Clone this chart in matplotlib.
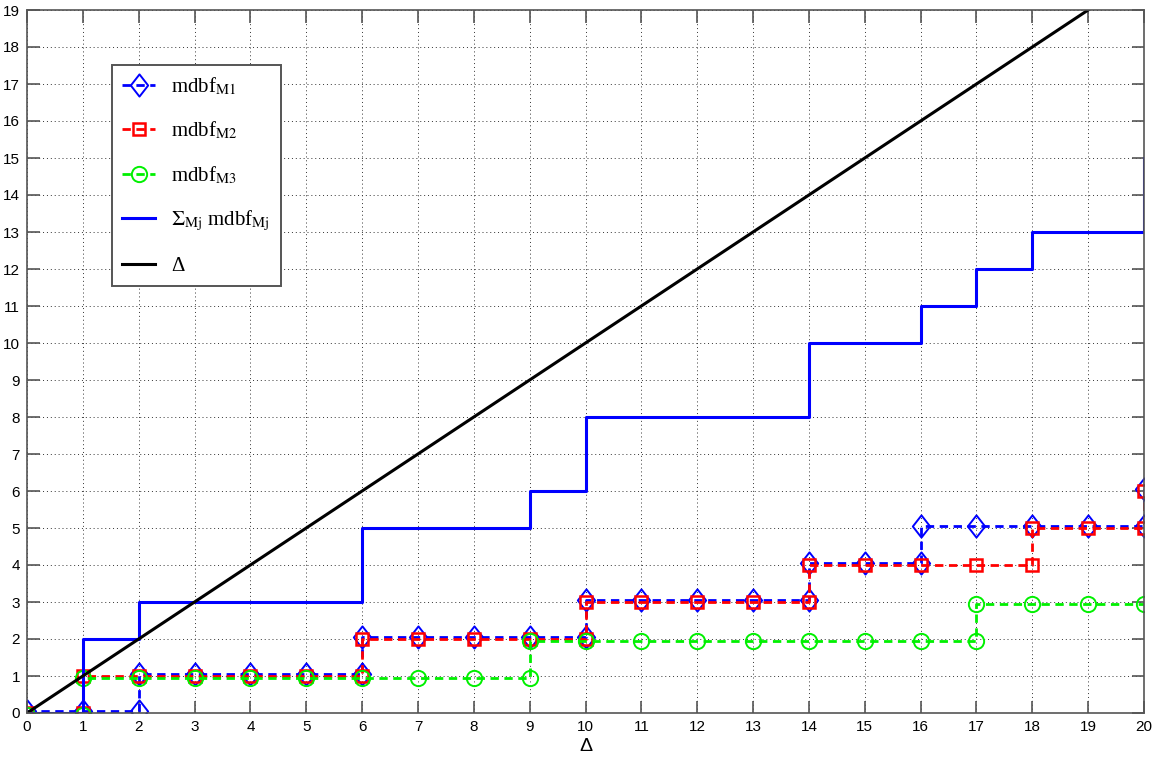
import matplotlib
matplotlib.use("Agg")
import matplotlib.pyplot as plt
from matplotlib.path import Path

# Δ values (integer grid) and step series; duplicated x marks a jump
m1_x = [0, 1, 2, 2, 3, 4, 5, 6, 6, 7, 8, 9, 10, 10, 11, 12, 13, 14, 14, 15, 16, 16, 17, 18, 19, 20, 20]
m1_y = [0, 0, 0, 1, 1, 1, 1, 1, 2, 2, 2, 2, 2, 3, 3, 3, 3, 3, 4, 4, 4, 5, 5, 5, 5, 5, 6]

m2_x = [0, 1, 1, 2, 3, 4, 5, 6, 6, 7, 8, 9, 10, 10, 11, 12, 13, 14, 14, 15, 16, 17, 18, 18, 19, 20, 20]
m2_y = [0, 0, 1, 1, 1, 1, 1, 1, 2, 2, 2, 2, 2, 3, 3, 3, 3, 3, 4, 4, 4, 4, 4, 5, 5, 5, 6]

m3_x = [0, 1, 1, 2, 3, 4, 5, 6, 7, 8, 9, 9, 10, 11, 12, 13, 14, 15, 16, 17, 17, 18, 19, 20]
m3_y = [0, 0, 1, 1, 1, 1, 1, 1, 1, 1, 1, 2, 2, 2, 2, 2, 2, 2, 2, 2, 3, 3, 3, 3]

sum_x = [0, 1, 1, 2, 2, 6, 6, 9, 9, 10, 10, 14, 14, 16, 16, 17, 17, 18, 18, 20, 20]
sum_y = [0, 0, 2, 2, 3, 3, 5, 5, 6, 6, 8, 8, 10, 10, 11, 11, 12, 12, 13, 13, 15]

delta_x = [0, 20]
delta_y = [0, 20]

# small visual offsets used in the original to separate overlapping curves
off1 = 0.05
off3 = -0.05

plt.rcParams['mathtext.fontset'] = 'stix'

diamond = Path([(0, 1), (0.78, 0), (0, -1), (-0.78, 0), (0, 1)],
               [Path.MOVETO, Path.LINETO, Path.LINETO, Path.LINETO, Path.CLOSEPOLY])

fig = plt.figure(figsize=(11.61, 7.66), dpi=100)
ax = fig.add_axes([27/1161, 1 - 713/766, (1144-27)/1161, (713-10)/766])

dash = (0, (3.0, 2.0))
ax.plot(m1_x, [v + off1 for v in m1_y], color='#0000ff', ls=dash, lw=2.0,
        marker=diamond, ms=16, mfc='none', mec='#0000ff', mew=1.4,
        label=r'mdbf$_{\mathrm{M1}}$')
ax.plot(m2_x, m2_y, color='#ff0000', ls=dash, lw=2.0,
        marker='s', ms=9, mfc='none', mec='#ff0000', mew=1.8,
        label=r'mdbf$_{\mathrm{M2}}$')
ax.plot(m3_x, [v + off3 for v in m3_y], color='#00f000', ls=dash, lw=2.0,
        marker='o', ms=11, mfc='none', mec='#00f000', mew=1.4,
        label=r'mdbf$_{\mathrm{M3}}$')
ax.plot(sum_x, sum_y, color='#0000ff', lw=2.2,
        label=r'$\Sigma_{\mathrm{Mj}}$ mdbf$_{\mathrm{Mj}}$')
ax.plot(delta_x, delta_y, color='black', lw=2.2, label='Δ')

ax.set_xlim(0, 20)
ax.set_ylim(0, 19)
ax.set_xticks(range(0, 21))
ax.set_yticks(range(0, 20))
ax.tick_params(direction='in', length=9, width=1.2, top=True, right=True,
               labelsize=11, colors='#555555', labelcolor='black', pad=5)
for lab in ax.get_xticklabels() + ax.get_yticklabels():
    lab.set_fontfamily('Liberation Sans')
ax.grid(True, color='#333333', ls=(0, (1, 3)), lw=0.7)
for sp in ax.spines.values():
    sp.set_color('#555555')
    sp.set_linewidth(1.2)

ax.set_xlabel('Δ', fontsize=14, labelpad=3, family='Liberation Sans')

leg = ax.legend(loc='upper left', bbox_to_anchor=(0.0761, 0.9218), borderaxespad=0,
                frameon=True, fancybox=False, edgecolor='#555555', framealpha=1,
                prop={'family': 'Liberation Serif', 'size': 15},
                handlelength=1.55, handletextpad=0.8, labelspacing=1.1,
                borderpad=0.5)
leg.get_frame().set_linewidth(1.4)

fig.savefig('out.png', dpi=100)
